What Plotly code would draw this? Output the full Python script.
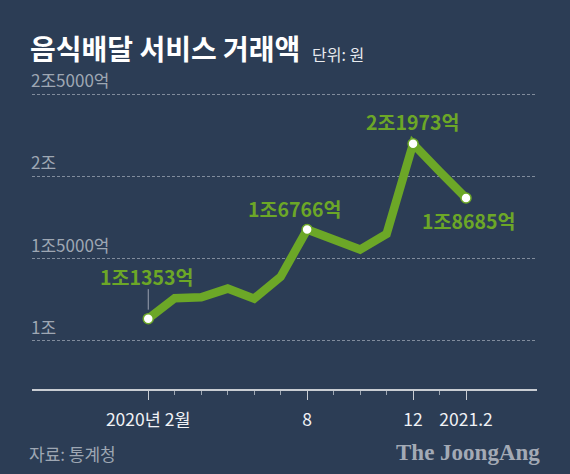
import plotly.graph_objects as go

# ---- data ----
months = ["2020-02", "2020-03", "2020-04", "2020-05", "2020-06", "2020-07", "2020-08",
          "2020-09", "2020-10", "2020-11", "2020-12", "2021-01", "2021-02"]
values = [11353, 12600, 12650, 13180, 12570, 13900, 16766,
          16170, 15550, 16500, 21973, 20300, 18685]   # 억 원
highlight_idx = [0, 6, 10, 12]
xtick_idx = [0, 6, 10, 12]
xtick_text = ["2020년 2월", "8", "12", "2021.2"]
ytick_vals = [10000, 15000, 20000, 25000]
ytick_text = ["1조", "1조5000억", "2조", "2조5000억"]

BG = "#2c3d55"
GREEN = "#6ca727"
GRID = "rgba(200,205,215,0.55)"
KFONT = "Noto Sans CJK KR"

W, H = 570, 474
ML, MR, MT, MB = 32, 33, 80, 85
PW, PH = W - ML - MR, H - MT - MB


def px(xp):
    return (xp - ML) / PW


def py(yp):
    return (H - MB - yp) / PH


x = list(range(len(months)))


def fmt(v):
    jo, eok = divmod(v, 10000)
    return f"{jo}조{eok}억" if eok else f"{jo}조"


fig = go.Figure()
fig.add_trace(go.Scatter(
    x=x, y=values, mode="lines",
    line=dict(color=GREEN, width=8.5),
    hoverinfo="skip", showlegend=False,
))
fig.add_trace(go.Scatter(
    x=[x[i] for i in highlight_idx], y=[values[i] for i in highlight_idx],
    mode="markers",
    marker=dict(size=10, color="white", line=dict(color=GREEN, width=1.5)),
    hoverinfo="skip", showlegend=False,
))

annotations = []
# value labels
label_offsets = {0: (-2, 42), 6: (-13, 21), 10: (-1, 22), 12: (2, -23)}
for i in highlight_idx:
    dx, dy = label_offsets[i]
    annotations.append(dict(
        x=x[i], y=values[i], text=fmt(values[i]), showarrow=False,
        xshift=dx, yshift=dy, xanchor="center", yanchor="middle",
        font=dict(family=KFONT, size=19.5, color=GREEN, weight="bold"),
    ))
# leader line for first label
annotations.append(dict(
    x=x[0], y=values[0], ax=0, ay=-31, axref="pixel", ayref="pixel",
    showarrow=True, arrowhead=0, arrowwidth=1, arrowcolor="rgba(200,205,215,0.7)",
    standoff=9, text="",
))

# y tick labels above the grid lines
for v, t in zip(ytick_vals, ytick_text):
    annotations.append(dict(
        x=0, xref="paper", y=v, yref="y", text=t, showarrow=False,
        xanchor="left", yanchor="bottom", yshift=0, xshift=-3,
        font=dict(family=KFONT, size=17, color="#9ea7b3"),
    ))

# title & texts
annotations += [
    dict(text="음식배달 서비스 거래액", x=px(28), y=py(48),
         xref="paper", yref="paper", xanchor="left", yanchor="middle", showarrow=False,
         font=dict(family=KFONT, size=28, color="white", weight="bold")),
    dict(text="단위: 원", x=px(310), y=py(54),
         xref="paper", yref="paper", xanchor="left", yanchor="middle", showarrow=False,
         font=dict(family=KFONT, size=16, color="#e8ebef")),
    dict(text="자료: 통계청", x=px(27), y=py(453),
         xref="paper", yref="paper", xanchor="left", yanchor="middle", showarrow=False,
         font=dict(family=KFONT, size=17, color="#9ea7b3")),
    dict(text="The JoongAng", x=px(542), y=py(452),
         xref="paper", yref="paper", xanchor="right", yanchor="middle", showarrow=False,
         font=dict(family="Liberation Serif", size=23, color="#a3aab5", weight="bold")),
]

fig.update_layout(
    width=W, height=H,
    paper_bgcolor=BG, plot_bgcolor=BG,
    margin=dict(l=ML, r=MR, t=MT, b=MB, autoexpand=False),
    annotations=annotations,
    xaxis=dict(
        range=[-4.39, 14.68], tickmode="array", tickvals=xtick_idx, ticktext=xtick_text,
        showgrid=False, zeroline=False,
        showline=True, linecolor="#c9cdd3", linewidth=1.5,
        ticks="outside", ticklen=9, tickwidth=1.2, tickcolor="#c9cdd3",
        ticklabelstandoff=5,
        tickfont=dict(family=KFONT, size=17.5, color="#f0f2f5"),
        minor=dict(tickvals=x, ticks="outside", ticklen=4, tickwidth=1.2,
                   tickcolor="#9ea7b3", showgrid=False),
        fixedrange=True,
    ),
    yaxis=dict(
        range=[7080, 25852], tickmode="array", tickvals=ytick_vals,
        showticklabels=False, showgrid=True, gridcolor=GRID, gridwidth=1,
        griddash="3px,2px", zeroline=False, showline=False, fixedrange=True,
    ),
)

fig.write_html("out.html")
